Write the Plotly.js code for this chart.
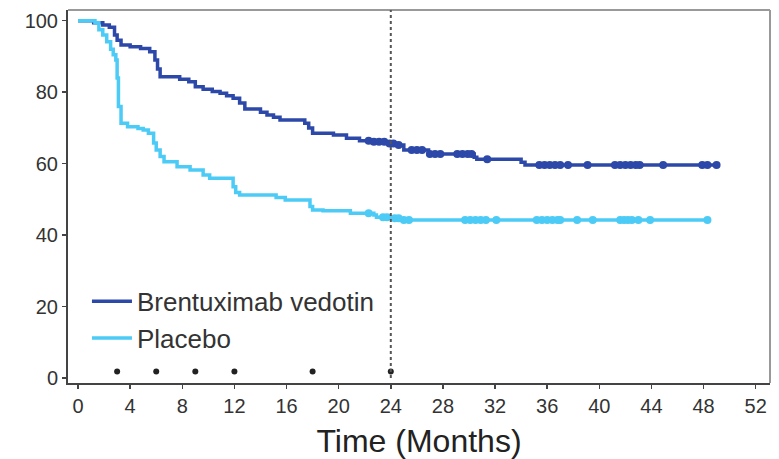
<!DOCTYPE html>
<html>
<head>
<meta charset="utf-8">
<script src="https://cdn.plot.ly/plotly-3.0.1.min.js"></script>
<style>html,body{margin:0;padding:0;background:#fff;}#chart{width:779px;height:459px;}</style>
</head>
<body>
<div id="chart"></div>
<script>
// Brentuximab vedotin: Kaplan-Meier step points (months, %)
const bvTime = [0, 1.2, 1.9, 2.4, 2.8, 3.0, 3.3, 4.0, 4.8, 5.5, 5.9, 6.1, 6.3, 7.8, 8.5, 9.0, 9.6, 10.3, 10.9, 11.4, 11.9, 12.4, 12.8, 14.0, 14.5, 15.0, 15.5, 17.4, 17.7, 18.0, 19.6, 20.6, 21.6, 22.7, 23.9, 24.4, 25.0, 26.9, 30.4, 30.6, 34.0, 34.3, 49.0];
const bvSurv = [100, 99.4, 98.8, 98.2, 96.0, 94.5, 93.2, 92.7, 92.2, 91.3, 89.0, 86.5, 84.3, 83.6, 82.9, 81.5, 80.8, 80.2, 79.7, 79.0, 78.3, 77.0, 75.3, 74.4, 73.6, 73.0, 72.2, 71.3, 70.0, 68.5, 68.0, 67.1, 66.4, 66.1, 65.6, 65.2, 63.8, 62.7, 61.8, 61.2, 60.4, 59.6, 59.6];
const bvCensor = [22.3, 22.7, 23.1, 23.5, 23.9, 24.2, 24.6, 25.6, 26.0, 26.4, 27.0, 27.4, 27.8, 29.1, 29.5, 29.9, 30.2, 31.4, 35.4, 35.8, 36.2, 36.6, 37.0, 37.6, 39.1, 41.2, 41.6, 42.0, 42.4, 42.8, 43.1, 44.9, 47.9, 48.3, 49.0];

// Placebo
const plTime = [0, 1.3, 1.6, 1.9, 2.2, 2.5, 2.7, 2.9, 3.0, 3.1, 3.3, 3.8, 4.6, 5.0, 5.4, 5.8, 6.0, 6.3, 6.6, 7.6, 8.6, 9.6, 10.1, 11.9, 12.1, 12.4, 15.2, 15.9, 17.8, 18.0, 18.8, 20.9, 22.7, 22.9, 24.2, 24.7, 48.3];
const plSurv = [100, 99.4, 97.5, 96.0, 94.1, 92.0, 90.5, 89.0, 84.0, 76.0, 71.3, 70.3, 69.8, 69.4, 68.5, 65.8, 63.8, 62.0, 60.5, 59.1, 58.2, 56.8, 55.9, 53.5, 51.9, 51.2, 50.5, 49.8, 48.0, 47.0, 46.8, 46.1, 45.6, 45.0, 44.7, 44.2, 44.2];
const plCensor = [22.3, 23.4, 23.7, 24.3, 24.6, 25.0, 25.4, 29.7, 30.1, 30.5, 30.9, 31.3, 32.1, 35.2, 35.6, 36.0, 36.4, 36.8, 37.0, 38.3, 39.5, 41.6, 41.9, 42.2, 42.5, 43.0, 43.9, 48.3];

// Landmark time points marked along the bottom
const landmarks = [3, 6, 9, 12, 18, 24];
const landmarkLevel = 1.8;

const xTicks = [0, 4, 8, 12, 16, 20, 24, 28, 32, 36, 40, 44, 48, 52];
const yTicks = [0, 20, 40, 60, 80, 100];

function stepValue(times, surv, t) {
  let v = surv[0];
  for (let i = 0; i < times.length; i++) { if (times[i] <= t) v = surv[i]; else break; }
  return v;
}

const bvColor = '#2c48a8';
const plColor = '#4ccbf6';

const traces = [
  {x: bvTime, y: bvSurv, type: 'scatter', mode: 'lines', line: {shape: 'hv', color: bvColor, width: 3.5}, name: 'Brentuximab vedotin'},
  {x: plTime, y: plSurv, type: 'scatter', mode: 'lines', line: {shape: 'hv', color: plColor, width: 3.5}, name: 'Placebo'},
  {x: bvCensor, y: bvCensor.map(t => stepValue(bvTime, bvSurv, t)), type: 'scatter', mode: 'markers', marker: {color: bvColor, size: 8}, showlegend: false},
  {x: plCensor, y: plCensor.map(t => stepValue(plTime, plSurv, t)), type: 'scatter', mode: 'markers', marker: {color: plColor, size: 8}, showlegend: false},
  {x: landmarks, y: landmarks.map(() => landmarkLevel), type: 'scatter', mode: 'markers', marker: {color: '#222', size: 6}, showlegend: false}
];

const font = 'Liberation Sans, Arial, Helvetica, sans-serif';

const layout = {
  width: 779, height: 459,
  margin: {l: 68, r: 9, t: 10, b: 76},
  paper_bgcolor: '#fff', plot_bgcolor: '#fff',
  font: {family: font, color: '#333'},
  showlegend: true,
  legend: {x: 0.027, y: 0.282, xanchor: 'left', yanchor: 'top', itemwidth: 40, font: {size: 26, family: font, color: '#333'}, bgcolor: 'rgba(0,0,0,0)', tracegroupgap: 0},
  xaxis: {
    range: [-0.77, 53.1], tickvals: xTicks, ticktext: xTicks.map(String),
    showgrid: false, zeroline: false, showline: true, linecolor: '#444', linewidth: 2,
    ticks: 'outside', ticklen: 4, tickwidth: 1.5, tickcolor: '#444',
    tickfont: {size: 20, family: font, color: '#333'},
    title: {text: 'Time (Months)', font: {size: 32, family: font, color: '#222'}, standoff: 14}
  },
  yaxis: {
    range: [-1.4, 103], tickvals: yTicks, ticktext: yTicks.map(String),
    showgrid: false, zeroline: false, showline: true, linecolor: '#444', linewidth: 2,
    ticks: 'outside', ticklen: 4, tickwidth: 1.5, tickcolor: '#444',
    tickfont: {size: 20, family: font, color: '#333'}
  },
  shapes: [
    {type: 'line', xref: 'paper', yref: 'paper', x0: 0, x1: 1, y0: 1, y1: 1, line: {color: '#999', width: 2}},
    {type: 'line', xref: 'paper', yref: 'paper', x0: 1, x1: 1, y0: 0, y1: 1, line: {color: '#999', width: 2}},
    {type: 'line', xref: 'x', yref: 'y', x0: 24, x1: 24, y0: 0, y1: 103, line: {color: '#555', width: 2, dash: '3px,3px'}}
  ]
};

Plotly.newPlot('chart', traces, layout, {displayModeBar: false, staticPlot: true});
</script>
</body>
</html>
